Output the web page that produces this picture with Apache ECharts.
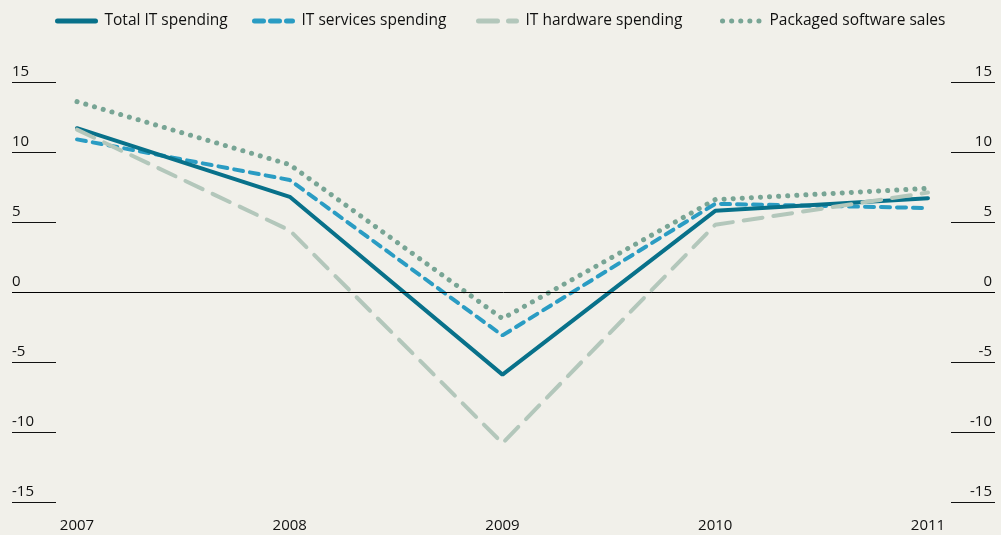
<!DOCTYPE html>
<html>
<head>
<meta charset="utf-8">
<script src="https://cdn.jsdelivr.net/npm/echarts@6/dist/echarts.min.js"></script>
<style>
  html, body { margin: 0; padding: 0; background: #f1f0ea; }
  #main { width: 1001px; height: 535px; }
</style>
</head>
<body>
<div id="main"></div>
<script>
// years and series values (% change)
var years = [2007, 2008, 2009, 2010, 2011]
var totalIT = [11.7, 6.8, -5.9, 5.8, 6.7]
var itServices = [10.9, 8.0, -3.1, 6.3, 6.0]
var itHardware = [11.6, 4.4, -10.8, 4.8, 7.1]
var softwareSales = [13.6, 9.1, -1.9, 6.6, 7.4]
var yTicks = [-15, -10, -5, 0, 5, 10, 15]

var font = 'Open Sans'
var textColor = '#111'

function pairs (vals) {
  return years.map(function (y, i) { return [y, vals[i]] })
}

function legendAt (name, left) {
  return {
    data: [name],
    left: left,
    top: 8,
    itemWidth: 38,
    itemHeight: 14,
    itemGap: 0,
    itemStyle: { opacity: 0 },
    lineStyle: { width: 5, cap: 'round' },
    textStyle: { fontFamily: font, fontSize: 15.5, color: textColor, padding: [0, 0, 0, 4] }
  }
}

var myChart = echarts.init(document.getElementById('main'))
myChart.setOption({
  backgroundColor: '#f1f0ea',
  animation: false,
  legend: [
    legendAt('Total IT spending', 50),
    legendAt('IT services spending', 247),
    legendAt('IT hardware spending', 471),
    legendAt('Packaged software sales', 715)
  ],
  grid: { left: 12, right: 6, top: 82, bottom: 33 },
  xAxis: {
    type: 'value',
    min: 2006.6945,
    max: 2011.315,
    axisLine: { show: false },
    axisTick: { show: false },
    splitLine: { show: false },
    axisLabel: {
      customValues: years,
      formatter: function (v) { return String(v) },
      margin: 16,
      fontFamily: font,
      fontSize: 15,
      color: textColor
    }
  },
  yAxis: [
    {
      type: 'value',
      position: 'left',
      min: yTicks[0],
      max: yTicks[yTicks.length - 1],
      interval: 5,
      axisLine: { show: false },
      splitLine: { show: false },
      axisTick: { show: true, inside: true, length: 44, lineStyle: { color: '#111', width: 1 } },
      axisLabel: {
        inside: true,
        margin: 0,
        align: 'left',
        verticalAlign: 'bottom',
        padding: [0, 0, 3, 0],
        fontFamily: font,
        fontSize: 15,
        color: textColor
      }
    },
    {
      type: 'value',
      position: 'right',
      min: yTicks[0],
      max: yTicks[yTicks.length - 1],
      interval: 5,
      axisLine: { show: false },
      splitLine: { show: false },
      axisTick: { show: true, inside: true, length: 44, lineStyle: { color: '#111', width: 1 } },
      axisLabel: {
        inside: true,
        margin: 3,
        align: 'right',
        verticalAlign: 'bottom',
        padding: [0, 0, 3, 0],
        fontFamily: font,
        fontSize: 15,
        color: textColor
      }
    }
  ],
  series: [
    {
      name: 'Total IT spending',
      type: 'line',
      symbol: 'none',
      data: pairs(totalIT),
      lineStyle: { color: '#08718a', width: 4, cap: 'round' },
      itemStyle: { color: '#08718a' },
      z: 4,
      markLine: {
        silent: true,
        symbol: 'none',
        label: { show: false },
        lineStyle: { color: '#000', width: 1, type: 'solid' },
        data: [{ yAxis: 0 }]
      }
    },
    {
      name: 'IT services spending',
      type: 'line',
      symbol: 'none',
      data: pairs(itServices),
      lineStyle: { color: '#2a9cc3', width: 4, type: [9, 7], cap: 'round' },
      itemStyle: { color: '#2a9cc3' },
      z: 3
    },
    {
      name: 'IT hardware spending',
      type: 'line',
      symbol: 'none',
      data: pairs(itHardware),
      lineStyle: { color: '#b3c7bb', width: 4, type: [19, 11], cap: 'round' },
      itemStyle: { color: '#b3c7bb' },
      z: 5
    },
    {
      name: 'Packaged software sales',
      type: 'line',
      symbol: 'none',
      data: pairs(softwareSales),
      lineStyle: { color: '#78a595', width: 5, type: [0.1, 9], cap: 'round' },
      itemStyle: { color: '#78a595' },
      z: 2
    }
  ]
})
</script>
</body>
</html>
